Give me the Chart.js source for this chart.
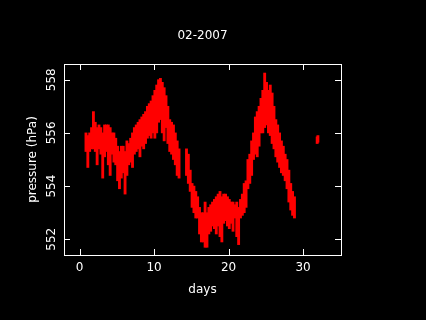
<!DOCTYPE html>
<html>
<head>
<meta charset="utf-8">
<script src="https://cdn.jsdelivr.net/npm/chart.js@4.4.1/dist/chart.umd.min.js"></script>
<style>
  html, body { margin: 0; padding: 0; background: #000; }
  #wrap { width: 426px; height: 320px; }
</style>
</head>
<body>
<div id="wrap"><canvas id="pressureChart" width="426" height="320"></canvas></div>
<script>
// Time bins (days) with min / max pressure seen in each bin
const days = [
    0.85, 1.1, 1.35, 1.6, 1.85, 2.1, 2.35, 2.6, 2.85, 3.1, 3.35, 3.6, 3.85, 4.1, 4.35, 4.6, 4.85,
    5.1, 5.35, 5.6, 5.85, 6.1, 6.35, 6.6, 6.85, 7.1, 7.35, 7.6, 7.85, 8.1, 8.35, 8.6, 8.85,
    9.1, 9.35, 9.6, 9.85, 10.1, 10.35, 10.6, 10.85, 11.1, 11.35, 11.6, 11.85, 12.1, 12.35, 12.6, 12.85,
    13.1, 13.35, 14.35, 14.6, 14.85, 15.1, 15.35, 15.6, 15.85, 16.1, 16.35, 16.6, 16.85,
    17.1, 17.35, 17.6, 17.85, 18.1, 18.35, 18.6, 18.85, 19.1, 19.35, 19.6, 19.85, 20.1, 20.35, 20.6, 20.85,
    21.1, 21.35, 21.6, 21.85, 22.1, 22.35, 22.6, 22.85, 23.1, 23.35, 23.6, 23.85, 24.1, 24.35, 24.6, 24.85,
    25.1, 25.35, 25.6, 25.85, 26.1, 26.35, 26.6, 26.85, 27.1, 27.35, 27.6, 27.85, 28.1, 28.35, 28.6, 28.85,
    31.9, 32.0
];
const pressLow = [
    555.3, 554.7, 555.3, 555.4, 555.4, 555.3, 554.8, 555.4, 555.2, 554.3, 555.1, 555.3, 554.8, 554.4, 555.2, 554.9, 554.8,
    554.2, 553.9, 554.3, 554.5, 553.7, 554.4, 554.8, 554.9, 554.7, 555.2, 555.3, 555.4, 555.1, 555.5, 555.4, 555.6,
    555.8, 555.9, 555.8, 556.0, 555.8, 556.0, 556.4, 556.5, 556.0, 555.7, 556.2, 555.6, 555.3, 555.2, 555.0, 554.8,
    554.4, 554.3, 554.4, 554.1, 553.8, 553.2, 553.0, 552.8, 552.8, 552.2, 551.9, 551.9, 551.7,
    551.7, 552.2, 552.3, 552.5, 552.4, 552.2, 552.5, 552.1, 551.9, 552.6, 552.7, 552.5, 552.4, 552.6, 552.3, 552.8,
    552.1, 551.8, 552.8, 552.9, 553.0, 553.2, 553.9, 554.1, 554.4, 555.0, 555.2, 555.1, 555.5, 556.0, 556.0, 556.2,
    556.3, 556.0, 555.9, 555.6, 555.4, 555.1, 554.9, 554.7, 554.5, 554.4, 554.2, 553.9, 553.4, 553.1, 552.9, 552.8,
    555.6, 555.65
];
const pressHigh = [
    556.0, 555.9, 556.0, 556.2, 556.8, 556.4, 556.2, 556.3, 556.2, 556.0, 556.3, 556.3, 556.3, 556.2, 556.0, 556.0, 555.8,
    555.5, 555.3, 555.5, 555.5, 555.3, 555.7, 555.6, 555.8, 556.0, 556.2, 556.3, 556.4, 556.5, 556.6, 556.7, 556.8,
    557.0, 557.1, 557.2, 557.4, 557.6, 557.8, 558.0, 558.05, 557.9, 557.7, 557.4, 557.0, 556.5, 556.4, 556.3, 556.0,
    555.7, 555.4, 555.4, 555.2, 554.6, 554.1, 554.0, 553.8, 553.6, 553.2, 553.0, 553.0, 553.4,
    553.0, 553.2, 553.3, 553.4, 553.5, 553.6, 553.7, 553.8, 553.6, 553.7, 553.7, 553.6, 553.5, 553.4, 553.4, 553.3,
    553.4, 553.2, 553.5, 553.7, 554.1, 554.2, 555.0, 555.2, 555.7, 556.0, 556.6, 556.8, 557.0, 557.3, 557.6, 558.25,
    557.9, 557.6, 557.8, 557.5, 557.0, 556.5, 556.3, 556.0, 555.7, 555.5, 555.2, 555.0, 554.6, 554.1, 553.8, 553.6,
    555.85, 555.9
];

// Axis ticks and labels
const xTicks = [0, 10, 20, 30];
const yTicks = [552, 554, 556, 558];
const chartTitle = '02-2007';
const xTitle = 'days';
const yTitle = 'pressure (hPa)';

const frameColor = '#ffffff';
const labelFont = '12px "DejaVu Sans", sans-serif';

// Draws black background, boxed frame with inside ticks, and all text
const framePlugin = {
    id: 'frame',
    beforeDraw(chart) {
        const ctx = chart.ctx;
        ctx.save();
        ctx.fillStyle = '#000';
        ctx.fillRect(0, 0, chart.width, chart.height);
        ctx.restore();
    },
    afterDraw(chart) {
        const ctx = chart.ctx;
        const area = chart.chartArea;
        const xs = chart.scales.x;
        const ys = chart.scales.y;
        const tick = 6;

        ctx.save();
        ctx.strokeStyle = frameColor;
        ctx.lineWidth = 1;
        ctx.strokeRect(Math.round(area.left) + 0.5, Math.round(area.top) + 0.5,
            Math.round(area.right - area.left), Math.round(area.bottom - area.top));

        ctx.beginPath();
        xTicks.forEach(v => {
            const px = Math.round(xs.getPixelForValue(v)) + 0.5;
            ctx.moveTo(px, area.bottom);
            ctx.lineTo(px, area.bottom - tick);
            ctx.moveTo(px, area.top);
            ctx.lineTo(px, area.top + tick);
        });
        yTicks.forEach(v => {
            const py = Math.round(ys.getPixelForValue(v)) + 0.5;
            ctx.moveTo(area.left, py);
            ctx.lineTo(area.left + tick, py);
            ctx.moveTo(area.right, py);
            ctx.lineTo(area.right - tick, py);
        });
        ctx.stroke();

        ctx.fillStyle = frameColor;
        ctx.font = labelFont;
        ctx.textAlign = 'center';
        ctx.textBaseline = 'middle';

        xTicks.forEach(v => {
            ctx.fillText(String(v), xs.getPixelForValue(v), area.bottom + 13);
        });
        yTicks.forEach(v => {
            ctx.save();
            ctx.translate(area.left - 12, ys.getPixelForValue(v));
            ctx.rotate(-Math.PI / 2);
            ctx.fillText(String(v), 0, 0);
            ctx.restore();
        });

        const midX = (area.left + area.right) / 2;
        const midY = (area.top + area.bottom) / 2;
        ctx.fillText(chartTitle, midX, 36);
        ctx.fillText(xTitle, midX, area.bottom + 35);

        ctx.save();
        ctx.translate(area.left - 31, midY);
        ctx.rotate(-Math.PI / 2);
        ctx.fillText(yTitle, 0, 0);
        ctx.restore();
        ctx.restore();
    }
};

const ctx = document.getElementById('pressureChart').getContext('2d');
new Chart(ctx, {
    type: 'bar',
    data: {
        datasets: [{
            data: days.map((d, i) => ({ x: d, y: [pressLow[i], pressHigh[i]] })),
            backgroundColor: '#ff0000',
            borderWidth: 0,
            barThickness: 2.2,
            grouped: false
        }]
    },
    options: {
        responsive: false,
        animation: false,
        layout: {
            padding: { left: 64, right: 85, top: 64, bottom: 65 }
        },
        plugins: {
            legend: { display: false },
            tooltip: { enabled: false }
        },
        scales: {
            x: {
                type: 'linear',
                display: false,
                offset: false,
                min: -2.1,
                max: 35.1
            },
            y: {
                type: 'linear',
                display: false,
                min: 551.41,
                max: 558.59
            }
        }
    },
    plugins: [framePlugin]
});
</script>
</body>
</html>
